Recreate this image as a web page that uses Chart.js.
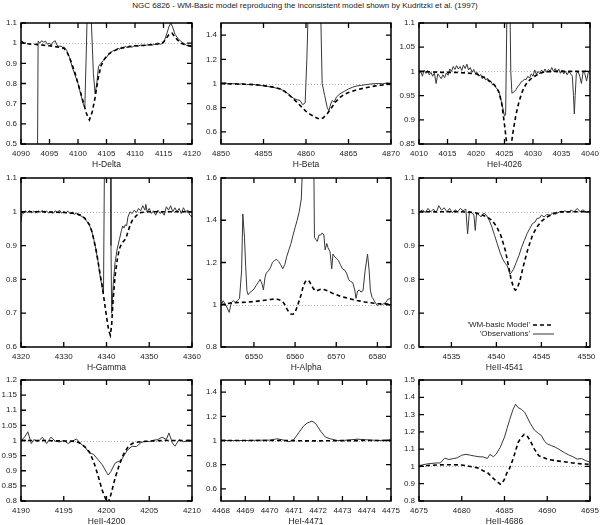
<!DOCTYPE html>
<html>
<head>
<meta charset="utf-8">
<script src="https://cdn.jsdelivr.net/npm/chart.js@4.4.1/dist/chart.umd.min.js"></script>
<style>
body { margin: 0; background: #fff; width: 600px; height: 525px; overflow: hidden; position: relative; font-family: "Liberation Sans", Arial, sans-serif; }
#title { position: absolute; left: 0; top: 1px; width: 610px; text-align: center; font-size: 8px; line-height: 10px; color: #222; }
canvas { position: absolute; }
</style>
</head>
<body>
<div id="title">NGC 6826 - WM-Basic model reproducing the inconsistent model shown by Kudritzki et al. (1997)</div>
<script>
// panel names and legend
const panelNames = ['H-Delta', 'H-Beta', 'HeI-4026', 'H-Gamma', 'H-Alpha', 'HeII-4541', 'HeII-4200', 'HeI-4471', 'HeII-4686'];
const legendLabels = ["'WM-basic Model'", "'Observations'"];

// H-Delta
const hdObsX = [4092.9,4093,4093.3,4093.6,4094,4094.3,4094.6,4095,4095.3,4095.6,4096,4096.3,4096.6,4097,4097.3,4097.6,4098,4098.5,4099,4099.5,4100,4100.5,4101,4101.2,4101.45,4101.7,4102.1,4102.35,4102.7,4103,4103.3,4103.6,4104,4104.5,4105,4105.5,4106,4106.5,4107,4107.3,4107.6,4108,4108.3,4108.6,4109,4109.5,4110,4110.5,4111,4111.5,4112,4112.5,4113,4113.5,4114,4114.5,4115,4115.5,4116,4116.3,4116.6,4117,4117.5,4118,4118.5,4119,4119.5,4120];
const hdObsY = [0.45,1.01,1.0,1.012,1.005,1.01,0.995,1.0,0.99,1.005,1.012,0.99,0.985,0.985,0.98,0.98,0.965,0.93,0.88,0.84,0.8,0.745,0.69,0.685,0.95,1.25,1.3,1.1,0.85,0.75,0.8,0.885,0.9,0.915,0.93,0.95,0.96,0.965,0.975,0.97,0.98,0.975,0.985,0.978,0.985,0.98,0.99,0.985,0.99,0.987,0.99,0.993,0.99,0.995,1.0,0.995,1.0,1.04,1.085,1.1,1.08,1.045,1.025,1.01,1.0,0.99,0.985,0.985];
const hdModX = [4090,4090.5,4091,4092,4093,4094,4095,4096,4097,4097.5,4098,4098.5,4099,4099.5,4100,4100.5,4101,4101.5,4102,4102.5,4103,4103.5,4104,4104.5,4105,4105.5,4106,4107,4108,4109,4110,4111,4112,4113,4114,4115,4115.5,4116,4116.5,4117,4117.5,4118,4119,4120];
const hdModY = [1.01,1.0,0.997,0.995,0.993,0.99,0.987,0.983,0.978,0.975,0.96,0.93,0.89,0.85,0.8,0.75,0.7,0.65,0.62,0.66,0.73,0.82,0.885,0.915,0.935,0.948,0.958,0.97,0.978,0.983,0.986,0.988,0.99,0.993,0.996,1.005,1.025,1.045,1.05,1.03,1.015,1.0,0.99,0.985];

// H-Beta
const hbObsX = [4850,4850.5,4851,4851.5,4852,4852.5,4853,4853.5,4854,4854.5,4855,4855.5,4856,4856.5,4857,4857.5,4858,4858.3,4858.6,4859,4859.3,4859.6,4859.9,4860.1,4860.3,4861,4861.7,4861.9,4862.2,4862.5,4862.7,4862.9,4863.1,4863.3,4863.6,4864,4864.5,4865,4865.5,4866,4866.5,4867,4867.5,4868,4868.5,4869,4869.5,4870];
const hbObsY = [1.0,1.005,0.995,1.0,0.993,0.998,0.99,0.995,0.99,0.985,0.98,0.975,0.97,0.962,0.953,0.935,0.91,0.89,0.875,0.865,0.86,0.825,0.84,1.2,1.7,1.9,1.7,1.0,0.9,0.8,0.775,0.83,0.86,0.845,0.89,0.915,0.935,0.955,0.97,0.98,0.985,0.99,0.995,0.998,1.0,0.998,1.003,1.0];
const hbModX = [4850,4851,4852,4853,4854,4855,4856,4857,4857.5,4858,4858.5,4859,4859.5,4860,4860.5,4861,4861.6,4862,4862.5,4863,4863.5,4864,4864.5,4865,4866,4867,4868,4869,4870];
const hbModY = [1.0,0.998,0.996,0.993,0.99,0.983,0.972,0.955,0.935,0.905,0.875,0.84,0.805,0.77,0.745,0.725,0.705,0.715,0.75,0.8,0.85,0.885,0.91,0.925,0.948,0.965,0.978,0.988,0.995];

// HeI-4026
const he26ObsX = [4010,4010.3,4010.6,4010.9,4011.2,4011.5,4011.8,4012.1,4012.4,4012.7,4013,4013.3,4013.6,4013.9,4014.2,4014.5,4014.8,4015.1,4015.4,4015.7,4016,4016.3,4016.6,4016.9,4017.2,4017.5,4017.8,4018.1,4018.4,4018.7,4019,4019.3,4019.6,4019.9,4020.2,4020.5,4020.8,4021.1,4021.4,4021.7,4022,4022.3,4022.6,4022.9,4023.2,4023.5,4023.8,4024.1,4024.4,4024.7,4025,4025.2,4025.4,4025.6,4025.9,4026.1,4026.3,4026.7,4027,4027.3,4027.6,4027.9,4028.2,4028.5,4028.8,4029.1,4029.4,4029.7,4030,4030.3,4030.6,4030.9,4031.2,4031.5,4031.8,4032.1,4032.4,4032.7,4033,4033.3,4033.6,4033.9,4034.2,4034.5,4034.8,4035.1,4035.4,4035.7,4036,4036.3,4036.6,4036.9,4037.1,4037.25,4037.4,4037.6,4037.9,4038.2,4038.5,4038.8,4039.1,4039.4,4039.7,4040];
const he26ObsY = [0.995,1.0,0.99,1.003,0.996,1.002,0.993,0.998,0.99,0.997,0.975,0.995,0.99,0.985,0.993,0.987,0.997,0.992,1.005,1.0,1.01,1.004,1.012,1.005,1.01,1.002,1.013,1.006,1.015,1.003,1.008,0.998,1.004,0.996,0.998,0.99,0.994,0.985,0.99,0.982,0.986,0.978,0.98,0.972,0.974,0.966,0.963,0.955,0.94,0.925,0.908,0.91,1.1,1.2,1.2,1.0,0.955,0.958,0.962,0.968,0.972,0.978,0.98,0.984,0.983,0.99,0.986,0.995,0.99,1.003,0.994,1.0,0.995,1.003,0.997,1.005,0.998,1.004,1.0,1.008,1.0,1.006,0.998,1.005,0.996,1.003,0.995,1.0,0.993,1.0,0.995,0.99,0.95,0.912,0.95,0.995,1.0,0.99,0.975,1.0,0.995,0.98,0.998,0.995];
const he26ModX = [4010,4012,4014,4016,4018,4020,4021,4022,4023,4023.5,4024,4024.5,4025,4025.3,4025.6,4025.9,4026.2,4026.5,4027,4027.5,4028,4028.5,4029,4030,4031,4032,4034,4036,4038,4040];
const he26ModY = [1.0,0.999,0.998,0.998,0.997,0.995,0.99,0.983,0.975,0.968,0.958,0.935,0.89,0.86,0.83,0.825,0.85,0.875,0.91,0.935,0.955,0.968,0.978,0.988,0.995,0.999,1.0,1.0,1.0,1.0];

// H-Gamma
const hgObsX = [4320,4320.3,4320.6,4321,4321.5,4322,4322.5,4323,4323.5,4324,4324.5,4325,4325.5,4326,4326.5,4327,4327.5,4328,4328.5,4329,4329.5,4330,4330.5,4331,4331.5,4332,4332.5,4333,4333.5,4334,4334.5,4335,4335.5,4336,4336.5,4337,4337.5,4338,4338.5,4339,4339.3,4339.55,4340.2,4340.9,4341.05,4341.2,4341.6,4342,4342.5,4343,4343.5,4343.8,4344.1,4344.4,4344.7,4345,4345.5,4346,4346.5,4347,4347.5,4348,4348.5,4349,4349.2,4349.5,4350,4350.5,4351,4351.5,4352,4352.5,4353,4353.5,4354,4354.5,4355,4355.5,4356,4356.5,4357,4357.5,4358,4358.5,4359,4359.5,4360];
const hgObsY = [0.97,1.0,0.995,1.003,0.998,1.004,0.997,1.002,0.996,1.003,0.999,1.004,0.997,1.002,0.996,1.001,0.995,1.003,0.998,1.005,0.996,1.001,0.997,1.002,0.994,0.999,0.993,0.996,0.99,0.988,0.984,0.978,0.97,0.96,0.945,0.92,0.89,0.855,0.81,0.775,0.757,1.2,1.4,1.3,0.9,0.7,0.79,0.85,0.89,0.917,0.945,0.958,0.952,0.962,0.958,0.984,1.0,0.995,1.005,0.998,1.01,1.003,1.018,1.005,1.022,1.0,1.01,0.995,1.003,0.99,1.005,0.995,1.0,0.99,1.015,1.005,1.018,1.0,1.012,1.0,1.01,0.995,1.012,1.0,1.005,0.99,0.985];
const hgModX = [4320,4325,4330,4332,4333,4334,4335,4336,4336.5,4337,4337.5,4338,4338.5,4339,4339.5,4340,4340.5,4340.9,4341.2,4341.5,4342,4342.5,4343,4343.5,4344,4344.5,4345,4345.5,4346,4347,4348,4350,4355,4360];
const hgModY = [1.0,1.0,0.998,0.996,0.994,0.99,0.98,0.962,0.945,0.92,0.89,0.855,0.815,0.78,0.735,0.69,0.65,0.635,0.665,0.73,0.81,0.857,0.89,0.905,0.913,0.92,0.94,0.96,0.974,0.989,0.998,1.0,1.0,1.0];

// H-Alpha
const haObsX = [6542,6542.5,6543,6543.5,6544,6544.5,6545,6545.5,6546,6546.5,6547,6547.3,6547.7,6548,6548.3,6548.6,6549,6549.5,6550,6550.5,6551,6551.5,6552,6552.3,6552.7,6553,6553.5,6554,6554.5,6555,6555.5,6556,6556.5,6557,6557.5,6558,6558.5,6559,6559.5,6560,6560.5,6561,6561.5,6561.8,6562.3,6563,6563.8,6564.5,6564.7,6565,6565.4,6565.8,6566.2,6566.6,6567,6567.3,6567.7,6568,6568.5,6568.9,6569.2,6569.5,6570,6570.5,6571,6571.5,6572,6572.5,6573,6573.5,6574,6574.5,6574.8,6575.2,6575.6,6576,6576.5,6577,6577.6,6578,6578.3,6578.7,6579,6579.5,6580,6580.5,6581,6581.5,6582,6582.5,6583.3];
const haObsY = [0.995,1.019,1.005,0.985,0.964,1.01,1.02,1.01,1.02,1.03,1.16,1.43,1.32,1.18,1.066,1.047,1.058,1.065,1.074,1.09,1.105,1.12,1.097,1.07,1.13,1.15,1.16,1.175,1.2,1.21,1.215,1.205,1.19,1.17,1.19,1.23,1.26,1.29,1.33,1.365,1.4,1.44,1.5,1.65,2.2,2.5,2.2,1.8,1.32,1.31,1.3,1.33,1.33,1.34,1.33,1.26,1.29,1.27,1.25,1.17,1.24,1.23,1.22,1.21,1.19,1.17,1.165,1.15,1.12,1.11,1.105,1.07,1.03,1.065,1.07,1.06,1.066,1.16,1.24,1.16,1.066,1.035,1.027,1.01,0.995,1.003,1.0,1.005,1.01,1.025,1.03];
const haModX = [6542,6545,6548,6550,6552,6554,6555,6556,6557,6557.5,6558,6558.5,6559,6559.5,6560,6560.5,6561,6561.5,6562,6562.5,6563,6563.5,6564,6564.5,6565,6565.5,6566,6566.5,6567,6568,6569,6570,6571,6572,6573,6574,6575,6576,6577,6578,6580,6583.3];
const haModY = [1.0,1.01,1.012,1.015,1.02,1.025,1.027,1.025,1.015,1.0,0.98,0.965,0.956,0.955,0.965,0.99,1.02,1.05,1.09,1.11,1.117,1.11,1.09,1.075,1.065,1.068,1.072,1.075,1.072,1.065,1.055,1.048,1.04,1.035,1.03,1.025,1.02,1.017,1.013,1.01,1.005,1.003];

// HeII-4541
const he41ObsX = [4531.4,4531.8,4532.1,4532.4,4532.7,4533,4533.3,4533.6,4533.9,4534.2,4534.5,4534.8,4535.1,4535.4,4535.7,4536,4536.3,4536.6,4536.8,4537,4537.3,4537.5,4537.65,4537.8,4538.1,4538.3,4538.6,4538.9,4539.2,4539.5,4539.8,4540.1,4540.4,4540.7,4541,4541.2,4541.35,4541.5,4541.7,4541.9,4542.2,4542.5,4542.8,4543.1,4543.4,4543.7,4544,4544.3,4544.5,4544.8,4545,4545.3,4545.6,4546,4546.3,4546.6,4547,4547.3,4547.6,4548,4548.3,4548.6,4549,4549.3,4549.6,4550,4550.4];
const he41ObsY = [1.0,1.005,0.998,1.01,1.0,1.008,0.997,1.018,1.005,1.012,1.0,1.01,0.997,1.006,1.0,1.01,1.003,1.008,0.935,1.0,0.997,0.99,0.945,0.995,0.99,0.985,0.996,0.99,0.975,0.955,0.93,0.905,0.88,0.86,0.847,0.84,0.83,0.815,0.822,0.83,0.85,0.87,0.895,0.915,0.935,0.95,0.965,0.97,0.98,0.982,0.99,0.985,0.992,0.99,0.998,0.993,1.0,0.997,1.003,0.998,1.005,1.0,1.01,1.0,1.006,0.998,1.003];
const he41ModX = [4531.4,4534,4536,4537,4537.5,4538,4538.5,4539,4539.5,4540,4540.5,4541,4541.3,4541.6,4541.9,4542.1,4542.3,4542.6,4543,4543.5,4544,4544.5,4545,4545.5,4546,4546.5,4547,4550.4];
const he41ModY = [1.0,1.0,1.0,0.999,0.998,0.995,0.99,0.984,0.975,0.957,0.93,0.885,0.845,0.805,0.775,0.768,0.772,0.795,0.84,0.89,0.93,0.955,0.972,0.983,0.99,0.996,1.0,1.0];

// HeII-4200
const he00ObsX = [4190,4190.4,4190.8,4191.2,4191.5,4192,4192.5,4193,4193.5,4194,4194.5,4195,4195.5,4196,4196.5,4197,4197.5,4198,4198.5,4199,4199.5,4200,4200.2,4200.5,4201,4201.3,4201.7,4202,4202.5,4203,4203.5,4204,4204.5,4205,4205.5,4206,4206.5,4207,4207.3,4207.7,4208,4208.5,4209,4209.5,4210];
const he00ObsY = [1.0,1.01,1.029,0.99,1.003,0.996,1.011,0.99,1.011,0.998,0.995,1.0,0.99,0.998,1.005,0.989,0.978,0.959,0.954,0.937,0.92,0.895,0.886,0.897,0.925,0.93,0.934,0.948,0.97,0.981,0.98,0.992,0.998,0.996,1.001,1.003,1.011,1.003,1.025,0.992,0.981,1.003,0.996,0.998,0.997];
const he00ModX = [4190,4192,4194,4196,4196.5,4197,4197.5,4198,4198.5,4199,4199.5,4200,4200.2,4200.5,4201,4201.5,4202,4202.5,4203,4203.5,4204,4205,4207,4210];
const he00ModY = [1.0,1.0,0.999,0.998,0.996,0.99,0.978,0.962,0.93,0.885,0.835,0.8,0.795,0.82,0.875,0.92,0.955,0.978,0.99,0.994,0.996,0.998,1.0,1.0];

// HeI-4471
const he71ObsX = [4468,4468.5,4469,4469.5,4470,4470.3,4470.55,4470.8,4471,4471.2,4471.4,4471.55,4471.75,4471.9,4472.1,4472.3,4472.5,4472.8,4473,4473.3,4473.6,4474,4474.5,4475];
const he71ObsY = [1.0,1.0,1.0,1.002,1.003,1.014,1.005,0.99,1.008,1.064,1.12,1.144,1.16,1.14,1.078,1.028,1.014,1.0,1.0,1.005,1.011,1.006,1.0,1.005];
const he71ModX = [4468,4470,4471,4471.5,4472,4472.5,4473,4475];
const he71ModY = [1.0,1.0,0.999,0.997,0.997,0.998,0.999,1.0];

// HeII-4686
const he86ObsX = [4675,4676,4677,4677.5,4678,4678.5,4679,4679.5,4680,4680.5,4681,4681.5,4682,4682.5,4683,4683.3,4683.7,4684,4684.5,4685,4685.3,4685.6,4686,4686.3,4686.6,4687,4687.4,4688,4688.5,4689,4689.3,4689.7,4690,4690.5,4691,4691.5,4692,4692.5,4693,4693.5,4694,4694.5,4695];
const he86ObsY = [1.005,1.015,1.02,1.02,1.048,1.04,1.045,1.05,1.065,1.07,1.065,1.06,1.056,1.055,1.046,1.07,1.056,1.07,1.11,1.17,1.22,1.27,1.33,1.36,1.34,1.33,1.31,1.25,1.21,1.19,1.18,1.145,1.13,1.12,1.11,1.095,1.08,1.067,1.056,1.042,1.046,1.033,1.025];
const he86ModX = [4675,4676,4677,4678,4679,4680,4681,4682,4682.5,4683,4683.5,4684,4684.5,4684.7,4685,4685.3,4685.6,4686,4686.3,4686.6,4687,4687.3,4687.6,4688,4688.5,4689,4689.5,4690,4691,4692,4693,4694,4695];
const he86ModY = [1.0,1.005,1.008,1.01,1.01,1.008,1.0,0.99,0.975,0.965,0.94,0.917,0.897,0.9,0.927,0.965,0.99,1.043,1.09,1.14,1.17,1.185,1.18,1.15,1.1,1.062,1.052,1.042,1.033,1.027,1.02,1.015,1.012];

// axis ranges and tick values
const xRanges = [[4090,4120],[4850,4870],[4010,4040],[4320,4360],[6542,6583.3],[4531.4,4550.4],[4190,4210],[4468,4475],[4675,4695]];
const yRanges = [[0.5,1.1],[0.5,1.5],[0.85,1.1],[0.6,1.1],[0.8,1.6],[0.6,1.1],[0.8,1.2],[0.5,1.5],[0.8,1.5]];
const xTicks = [
  [4090,4095,4100,4105,4110,4115,4120],
  [4850,4855,4860,4865,4870],
  [4010,4015,4020,4025,4030,4035,4040],
  [4320,4330,4340,4350,4360],
  [6550,6560,6570,6580],
  [4535,4540,4545,4550],
  [4190,4195,4200,4205,4210],
  [4468,4469,4470,4471,4472,4473,4474,4475],
  [4675,4680,4685,4690,4695]
];
const yTicks = [
  [0.5,0.6,0.7,0.8,0.9,1,1.1],
  [0.6,0.8,1,1.2,1.4],
  [0.85,0.9,0.95,1,1.05,1.1],
  [0.6,0.7,0.8,0.9,1,1.1],
  [0.8,1,1.2,1.4,1.6],
  [0.6,0.7,0.8,0.9,1,1.1],
  [0.8,0.85,0.9,0.95,1,1.05,1.1,1.15,1.2],
  [0.6,0.8,1,1.2,1.4],
  [0.8,0.9,1,1.1,1.2,1.3,1.4,1.5]
];

const obsSeries = [[hdObsX,hdObsY],[hbObsX,hbObsY],[he26ObsX,he26ObsY],[hgObsX,hgObsY],[haObsX,haObsY],[he41ObsX,he41ObsY],[he00ObsX,he00ObsY],[he71ObsX,he71ObsY],[he86ObsX,he86ObsY]];
const modSeries = [[hdModX,hdModY],[hbModX,hbModY],[he26ModX,he26ModY],[hgModX,hgModY],[haModX,haModY],[he41ModX,he41ModY],[he00ModX,he00ModY],[he71ModX,he71ModY],[he86ModX,he86ModY]];

// plot boxes (pixel edges of each frame)
const colEdges = [[21,192],[221,391],[419,590]];
const rowEdges = [[23,144],[178,347],[380,501]];
const PL = 30, PT = 8, PR = 10, PB = 28;
const tickFont = { family: 'Liberation Sans', size: 8 };
const textColor = '#222';

function toXY(xs, ys){
    return xs.map((x, i) => ({ x: x, y: ys[i] }));
}

function fmt(v){
    return String(Math.round(v * 100) / 100);
}

function noPad(s){
    s.paddingLeft = 0; s.paddingRight = 0; s.paddingTop = 0; s.paddingBottom = 0;
}

// frame, inward ticks, dotted unity line
const framePlugin = {
    id: 'frame',
    beforeDatasetsDraw(chart){
        const { ctx, chartArea: a, scales: { y } } = chart;
        const py = Math.round(y.getPixelForValue(1)) + 0.5;
        ctx.save();
        ctx.strokeStyle = '#9a9a9a';
        ctx.lineWidth = 0.8;
        ctx.setLineDash([1, 2]);
        ctx.beginPath(); ctx.moveTo(a.left, py); ctx.lineTo(a.right, py); ctx.stroke();
        ctx.restore();
    },
    afterDatasetsDraw(chart){
        const { ctx, chartArea: a, scales: { x, y } } = chart;
        const tl = 5;
        ctx.save();
        ctx.strokeStyle = '#000';
        ctx.lineWidth = 1.3;
        ctx.beginPath();
        x.ticks.forEach(t => {
            const px = x.getPixelForValue(t.value);
            ctx.moveTo(px, a.bottom); ctx.lineTo(px, a.bottom - tl);
            ctx.moveTo(px, a.top); ctx.lineTo(px, a.top + tl);
        });
        y.ticks.forEach(t => {
            const py = y.getPixelForValue(t.value);
            ctx.moveTo(a.left, py); ctx.lineTo(a.left + tl, py);
            ctx.moveTo(a.right, py); ctx.lineTo(a.right - tl, py);
        });
        ctx.stroke();
        ctx.lineWidth = 1.5;
        ctx.strokeRect(a.left, a.top, a.right - a.left, a.bottom - a.top);
        ctx.restore();
    }
};

// key drawn inside the HeII-4541 panel
const keyPlugin = {
    id: 'key',
    afterDatasetsDraw(chart){
        const { ctx, chartArea: a } = chart;
        const ds = chart.data.datasets;
        ctx.save();
        ctx.font = '8px "Liberation Sans"';
        ctx.fillStyle = textColor;
        ctx.textAlign = 'right';
        ctx.textBaseline = 'middle';
        legendLabels.forEach((lab, i) => {
            const ly = a.bottom - 22 + i * 9;
            ctx.fillText(lab, a.right - 60, ly);
            ctx.strokeStyle = ds[i].borderColor;
            ctx.lineWidth = ds[i].borderWidth;
            ctx.setLineDash(ds[i].borderDash || []);
            ctx.beginPath(); ctx.moveTo(a.right - 57, ly); ctx.lineTo(a.right - 36, ly); ctx.stroke();
        });
        ctx.restore();
    }
};

panelNames.forEach((name, i) => {
    const [l, r] = colEdges[i % 3];
    const [t, b] = rowEdges[Math.floor(i / 3)];
    const cv = document.createElement('canvas');
    cv.width = r - l + PL + PR;
    cv.height = b - t + PT + PB;
    cv.style.left = (l - PL) + 'px';
    cv.style.top = (t - PT) + 'px';
    document.body.appendChild(cv);

    new Chart(cv, {
        type: 'line',
        data: {
            datasets: [{
                label: legendLabels[0],
                data: toXY(modSeries[i][0], modSeries[i][1]),
                borderColor: '#000',
                borderWidth: 1.6,
                borderDash: [4, 3],
                pointRadius: 0,
                tension: 0
            }, {
                label: legendLabels[1],
                data: toXY(obsSeries[i][0], obsSeries[i][1]),
                borderColor: '#383838',
                borderWidth: 1,
                pointRadius: 0,
                tension: 0
            }]
        },
        options: {
            responsive: false,
            animation: false,
            events: [],
            layout: { padding: { left: 0, top: PT, right: PR, bottom: 0 } },
            plugins: { legend: { display: false }, tooltip: { enabled: false } },
            scales: {
                x: {
                    type: 'linear',
                    min: xRanges[i][0],
                    max: xRanges[i][1],
                    afterBuildTicks: s => { s.ticks = xTicks[i].map(v => ({ value: v })); },
                    afterFit: s => { s.height = PB; noPad(s); },
                    grid: { display: false, drawTicks: false },
                    border: { display: false },
                    ticks: { padding: 5, autoSkip: false, maxRotation: 0, font: tickFont, color: textColor, callback: fmt },
                    title: { display: true, text: name, font: { family: 'Liberation Sans', size: 8.5 }, color: textColor, padding: { top: 0, bottom: 2 } }
                },
                y: {
                    type: 'linear',
                    min: yRanges[i][0],
                    max: yRanges[i][1],
                    afterBuildTicks: s => { s.ticks = yTicks[i].map(v => ({ value: v })); },
                    afterFit: s => { s.width = PL; noPad(s); },
                    grid: { display: false, drawTicks: false },
                    border: { display: false },
                    ticks: { padding: 4, autoSkip: false, font: tickFont, color: textColor, callback: fmt }
                }
            }
        },
        plugins: i === 5 ? [framePlugin, keyPlugin] : [framePlugin]
    });
});
</script>
</body>
</html>
